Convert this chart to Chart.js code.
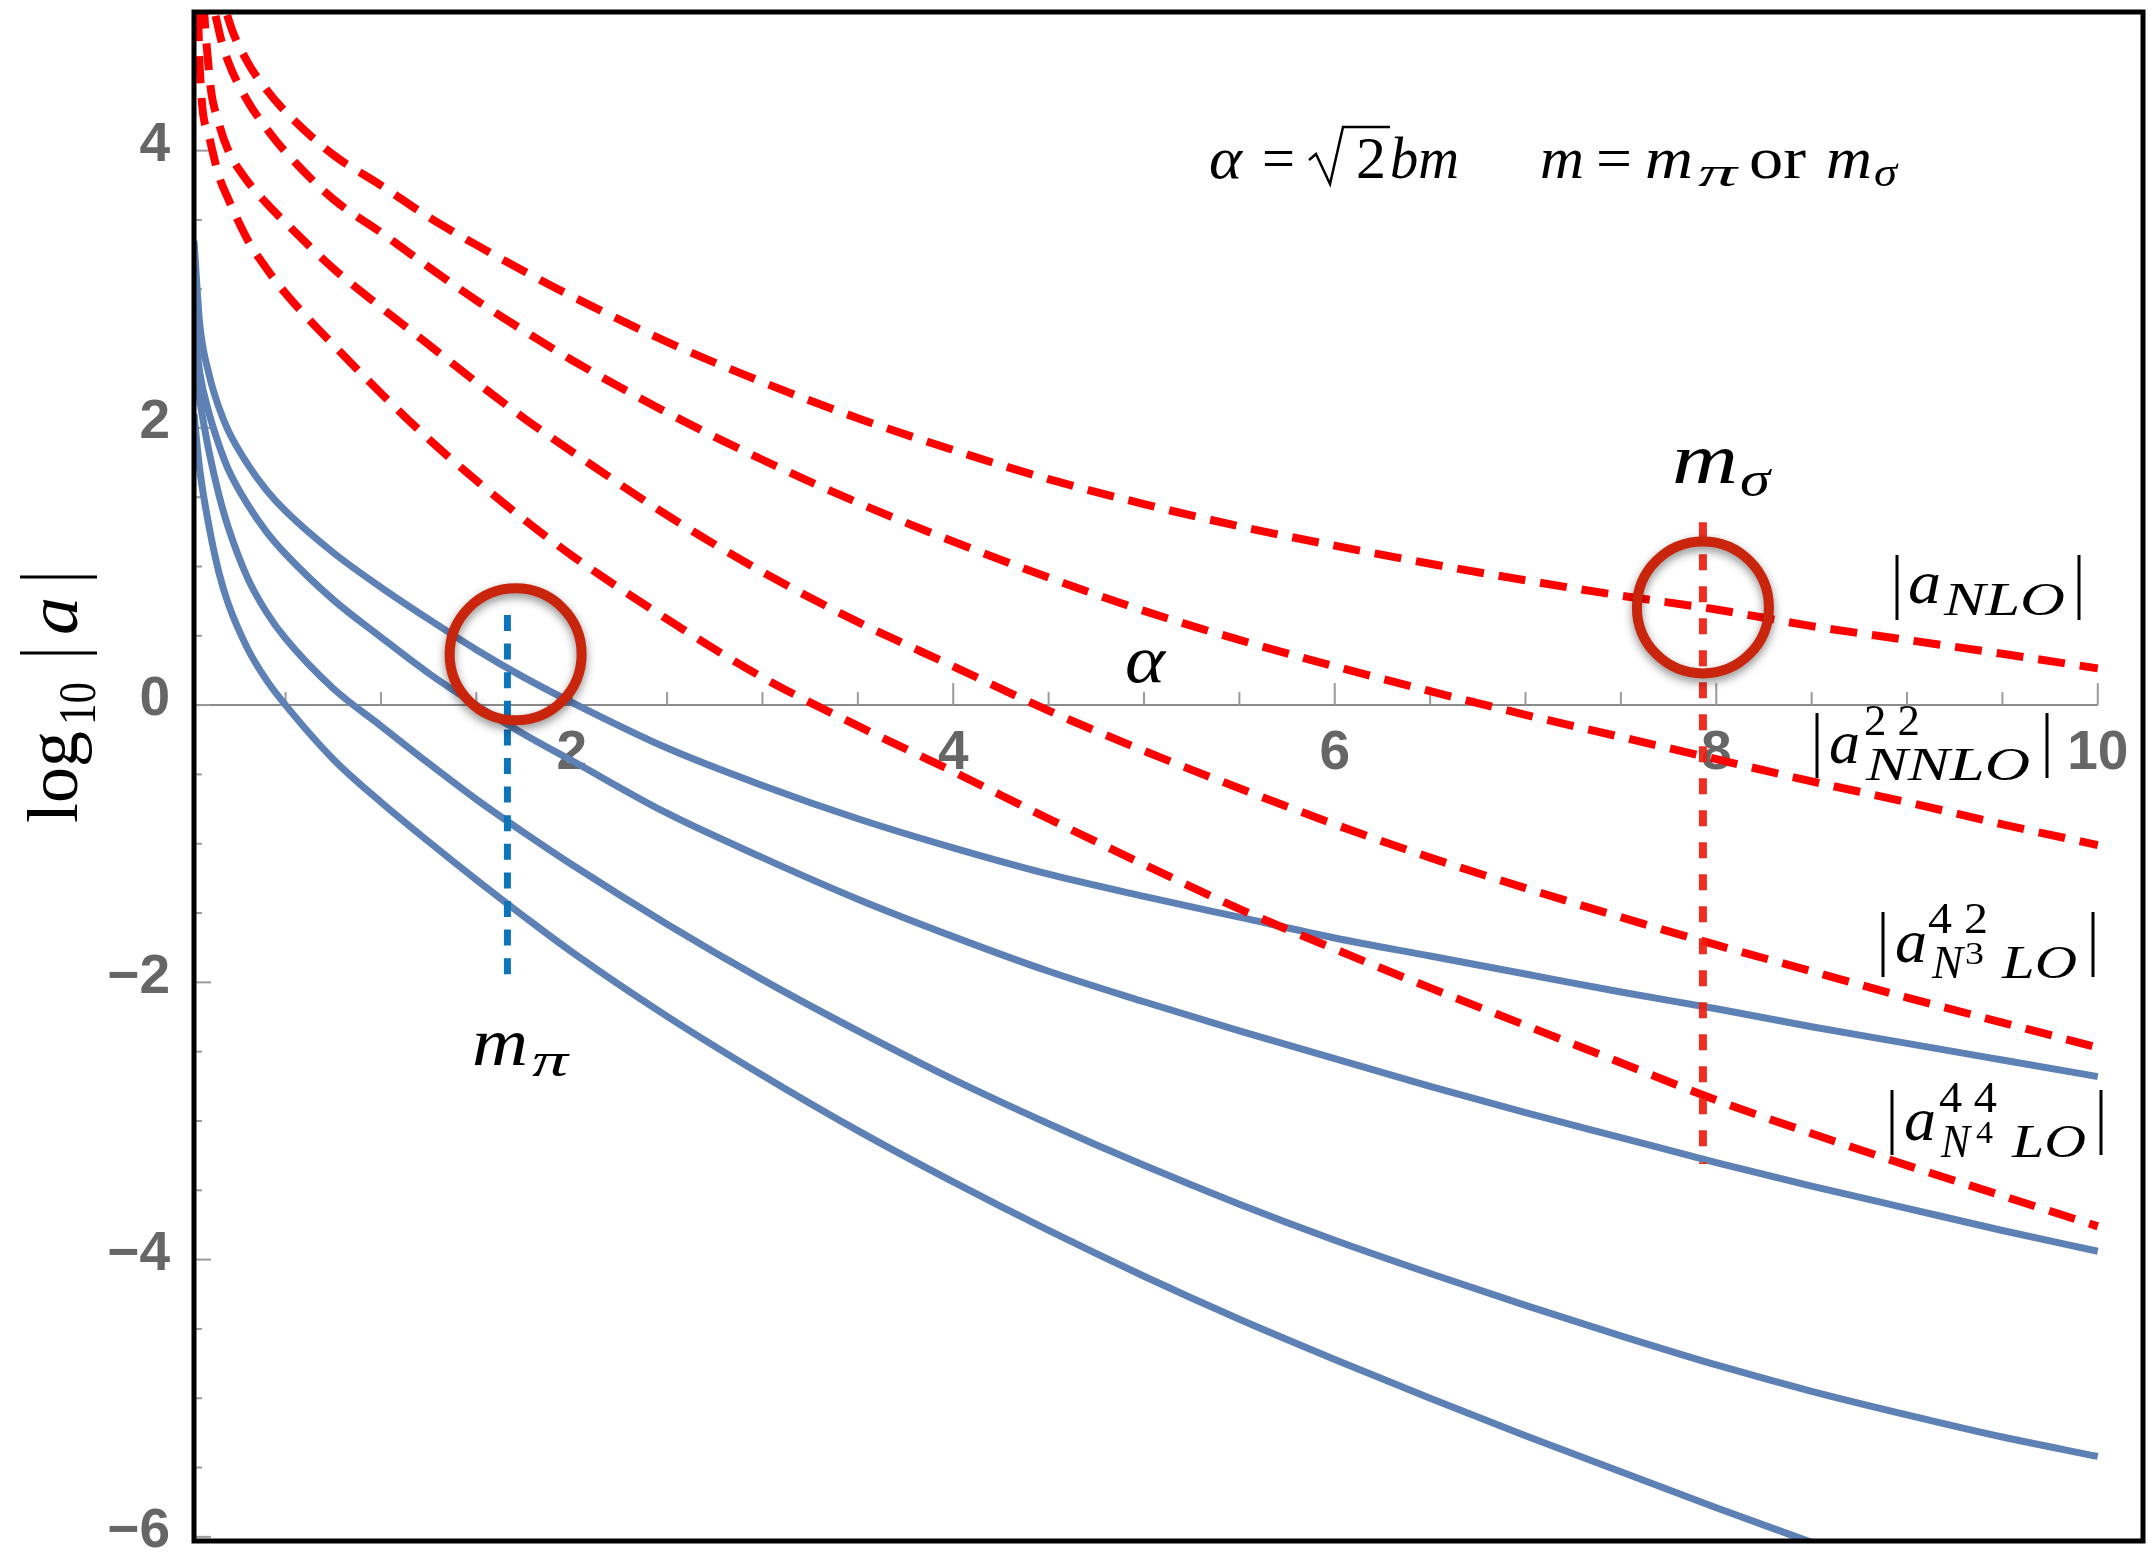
<!DOCTYPE html>
<html>
<head>
<meta charset="utf-8">
<title>log10|a| versus alpha</title>
<script src="https://cdn.jsdelivr.net/npm/chart.js@4.4.1/dist/chart.umd.min.js"></script>
<style>
  html, body { margin: 0; padding: 0; background: #ffffff; }
  #box { position: relative; width: 2148px; height: 1553px; }
</style>
</head>
<body>
<div id="box"><canvas id="chart" width="2148" height="1553"></canvas></div>
<script>
// sample points in alpha = sqrt(2) b m
const alpha = [0.02, 0.05, 0.1, 0.15, 0.2, 0.3, 0.4, 0.5, 0.75, 1, 1.25, 1.5, 1.75, 2, 2.5, 3, 3.5, 4, 4.5, 5, 5.5, 6, 6.5, 7, 7.5, 8, 8.5, 9, 9.5, 10];

// log10 of the coefficient magnitudes (dashed red)
const aNLO  = [8.6, 6.9, 5.75, 5.25, 4.95, 4.64, 4.44, 4.28, 3.97, 3.75, 3.52, 3.32, 3.13, 2.95, 2.62, 2.33, 2.07, 1.84, 1.63, 1.45, 1.29, 1.15, 1.02, 0.90, 0.79, 0.69, 0.57, 0.47, 0.37, 0.265];
const aNNLO = [8.3, 6.5, 5.3, 4.87, 4.64, 4.36, 4.16, 3.99, 3.65, 3.41, 3.16, 2.92, 2.70, 2.49, 2.11, 1.77, 1.46, 1.18, 0.92, 0.68, 0.47, 0.28, 0.10, -0.07, -0.23, -0.39, -0.55, -0.70, -0.86, -1.01];
const aN3LO = [7.5, 5.7, 4.55, 4.2, 4.0, 3.78, 3.62, 3.48, 3.15, 2.87, 2.60, 2.33, 2.07, 1.83, 1.37, 0.96, 0.60, 0.28, -0.04, -0.33, -0.60, -0.86, -1.10, -1.32, -1.53, -1.73, -1.92, -2.11, -2.29, -2.47];
const aN4LO = [6.5, 4.6, 4.1, 3.82, 3.65, 3.36, 3.15, 2.97, 2.60, 2.25, 1.92, 1.62, 1.34, 1.08, 0.62, 0.20, -0.15, -0.48, -0.82, -1.15, -1.47, -1.76, -2.04, -2.31, -2.58, -2.85, -3.09, -3.32, -3.54, -3.76];

// solid blue curves
const blue1 = [3.35, 2.75, 2.38, 2.15, 1.98, 1.74, 1.55, 1.40, 1.10, 0.85, 0.62, 0.40, 0.20, 0.02, -0.31, -0.58, -0.82, -1.03, -1.22, -1.38, -1.53, -1.68, -1.81, -1.94, -2.07, -2.19, -2.32, -2.44, -2.56, -2.68];
const blue2 = [2.75, 2.40, 2.10, 1.88, 1.70, 1.45, 1.25, 1.09, 0.76, 0.49, 0.23, 0.00, -0.21, -0.40, -0.78, -1.10, -1.40, -1.67, -1.92, -2.14, -2.35, -2.55, -2.75, -2.94, -3.12, -3.30, -3.47, -3.63, -3.79, -3.94];
const blue3 = [2.50, 2.20, 1.82, 1.52, 1.28, 0.92, 0.67, 0.48, 0.12, -0.15, -0.42, -0.68, -0.92, -1.15, -1.58, -1.98, -2.35, -2.70, -3.02, -3.32, -3.60, -3.86, -4.10, -4.33, -4.55, -4.76, -4.95, -5.12, -5.28, -5.42];
const blue4 = [2.10, 1.70, 1.28, 0.96, 0.73, 0.41, 0.18, 0.00, -0.39, -0.70, -0.985, -1.26, -1.525, -1.78, -2.245, -2.67, -3.07, -3.44, -3.79, -4.12, -4.43, -4.72, -5.00, -5.27, -5.53, -5.79, -6.04, -6.29, -6.53, -6.77];

// marked masses on the alpha axis and the extent of their markers
const mPi = 1.663;
const mPiSpan = [0.65, -2.0];
const mSigma = 7.93;
const mSigmaSpan = [1.32, -3.31];

// highlighted crossings (alpha, log10|a|)
const ringPi = [1.706, 0.366];
const ringSigma = [7.93, 0.705];

const xTickLabels = [2, 4, 6, 8, 10];
const yTickLabels = [-6, -4, -2, 0, 2, 4];

const pts = ys => alpha.map((x, i) => ({ x: x, y: ys[i] }));
const vline = (x, span) => [{ x: x, y: span[0] }, { x: x, y: span[1] }];

const RED = '#ff0000';
const BLUE = '#5e81b5';
const SERIF = '"Liberation Serif", "DejaVu Serif", serif';

function redSet(label, ys) {
  return { label, data: pts(ys), borderColor: RED, borderWidth: 8, borderDash: [27, 15],
           borderCapStyle: 'butt', cubicInterpolationMode: 'monotone', pointRadius: 0, clip: 0 };
}
function blueSet(label, ys) {
  return { label, data: pts(ys), borderColor: BLUE, borderWidth: 7,
           cubicInterpolationMode: 'monotone', pointRadius: 0, clip: 0 };
}

// text drawn to a given horizontal extent
function fitText(ctx, p) {
  ctx.font = (p.it ? 'italic ' : '') + p.size + 'px ' + SERIF;
  const w = ctx.measureText(p.t).width;
  const sx = (p.x1 - p.x0) / w;
  ctx.save();
  ctx.translate(p.x0, p.base);
  ctx.scale(sx, 1);
  ctx.fillText(p.t, 0, 0);
  ctx.restore();
}
function bar(ctx, x, y0, y1) {
  ctx.beginPath(); ctx.moveTo(x, y0); ctx.lineTo(x, y1); ctx.stroke();
}

const formula = [
  { t: 'α', x0: 1209, x1: 1242, base: 178, size: 60, it: true },
  { t: '=', x0: 1262, x1: 1295, base: 178, size: 60 },
  { t: '2', x0: 1356, x1: 1386, base: 178, size: 60 },
  { t: 'bm', x0: 1390, x1: 1459, base: 178, size: 60, it: true },
  { t: 'm', x0: 1540, x1: 1584, base: 178, size: 60, it: true },
  { t: '=', x0: 1596, x1: 1632, base: 178, size: 60 },
  { t: 'm', x0: 1645, x1: 1693, base: 178, size: 60, it: true },
  { t: 'π', x0: 1698, x1: 1737, base: 186, size: 42, it: true },
  { t: 'or', x0: 1749, x1: 1806, base: 178, size: 60 },
  { t: 'm', x0: 1826, x1: 1872, base: 178, size: 60, it: true },
  { t: 'σ', x0: 1874, x1: 1897, base: 186, size: 42, it: true }
];

const labels = [
  { bars: null, parts: [
    { t: 'm', x0: 1672, x1: 1738, base: 483, size: 72, it: true },
    { t: 'σ', x0: 1740, x1: 1770, base: 496, size: 50, it: true } ] },
  { bars: null, parts: [
    { t: 'm', x0: 472, x1: 528, base: 1065, size: 68, it: true },
    { t: 'π', x0: 532, x1: 568, base: 1076, size: 48, it: true } ] },
  { bars: null, parts: [
    { t: 'α', x0: 1125, x1: 1165, base: 682, size: 68, it: true } ] },
  { bars: [1897, 2079, 555, 620], parts: [
    { t: 'a', x0: 1908, x1: 1941, base: 603, size: 62, it: true },
    { t: 'NLO', x0: 1944, x1: 2065, base: 615, size: 46, it: true } ] },
  { bars: [1817, 2047, 713, 778], parts: [
    { t: 'a', x0: 1829, x1: 1860, base: 763, size: 62, it: true },
    { t: '2 2', x0: 1864, x1: 1920, base: 735, size: 44 },
    { t: 'NNLO', x0: 1866, x1: 2030, base: 780, size: 46, it: true } ] },
  { bars: [1883, 2093, 912, 977], parts: [
    { t: 'a', x0: 1895, x1: 1927, base: 962, size: 62, it: true },
    { t: '4 2', x0: 1928, x1: 1988, base: 933, size: 44 },
    { t: 'N', x0: 1932, x1: 1963, base: 978, size: 46, it: true },
    { t: '3', x0: 1965, x1: 1984, base: 964, size: 32 },
    { t: 'LO', x0: 2002, x1: 2077, base: 978, size: 46, it: true } ] },
  { bars: [1892, 2101, 1090, 1155], parts: [
    { t: 'a', x0: 1904, x1: 1936, base: 1140, size: 62, it: true },
    { t: '4 4', x0: 1939, x1: 1997, base: 1112, size: 44 },
    { t: 'N', x0: 1941, x1: 1970, base: 1157, size: 46, it: true },
    { t: '4', x0: 1976, x1: 1993, base: 1143, size: 32 },
    { t: 'LO', x0: 2012, x1: 2086, base: 1157, size: 46, it: true } ] }
];

const decor = {
  id: 'decor',
  beforeDatasetsDraw(chart) {
    const { ctx, chartArea: a, scales: { x, y } } = chart;
    const y0 = y.getPixelForValue(0);
    ctx.save();
    ctx.strokeStyle = '#8a8a8a';
    ctx.lineWidth = 2;
    ctx.beginPath();
    ctx.moveTo(a.left, y0);
    ctx.lineTo(x.getPixelForValue(10), y0);
    ctx.stroke();
    ctx.strokeStyle = '#9a9a9a';
    x.ticks.forEach(t => {
      if (t.value > 10) return;
      const px = x.getPixelForValue(t.value);
      const len = (t.value % 2 === 0) ? 22 : 13;
      ctx.beginPath(); ctx.moveTo(px, y0); ctx.lineTo(px, y0 - len); ctx.stroke();
    });
    y.ticks.forEach(t => {
      const py = y.getPixelForValue(t.value);
      const len = (t.value % 2 === 0) ? 17 : 8;
      ctx.beginPath(); ctx.moveTo(a.left, py); ctx.lineTo(a.left + len, py); ctx.stroke();
    });
    ctx.restore();
  },
  afterDraw(chart) {
    const { ctx, chartArea: a, scales: { x, y } } = chart;
    ctx.save();

    // highlight rings
    [ringPi, ringSigma].forEach(r => {
      ctx.save();
      ctx.shadowColor = 'rgba(0,0,0,0.45)';
      ctx.shadowBlur = 10;
      ctx.shadowOffsetY = 4;
      ctx.strokeStyle = '#c9250c';
      ctx.lineWidth = 10;
      ctx.beginPath();
      ctx.arc(x.getPixelForValue(r[0]), y.getPixelForValue(r[1]), 66, 0, Math.PI * 2);
      ctx.stroke();
      ctx.restore();
    });

    // frame
    ctx.strokeStyle = '#000000';
    ctx.lineWidth = 5;
    ctx.strokeRect(a.left, a.top, a.right - a.left, a.bottom - a.top);

    // texts
    ctx.fillStyle = '#000000';
    ctx.strokeStyle = '#000000';
    ctx.textBaseline = 'alphabetic';
    ctx.textAlign = 'left';
    formula.forEach(p => fitText(ctx, p));
    ctx.lineWidth = 2.5;
    ctx.beginPath();
    ctx.moveTo(1309, 160); ctx.lineTo(1316, 154); ctx.lineTo(1330, 184);
    ctx.lineTo(1343, 127); ctx.lineTo(1390, 127);
    ctx.stroke();

    labels.forEach(l => {
      l.parts.forEach(p => fitText(ctx, p));
      if (l.bars) {
        ctx.lineWidth = 3;
        bar(ctx, l.bars[0], l.bars[2], l.bars[3]);
        bar(ctx, l.bars[1], l.bars[2], l.bars[3]);
      }
    });

    // vertical axis title
    ctx.save();
    ctx.translate(77, 823);
    ctx.rotate(-Math.PI / 2);
    fitText(ctx, { t: 'log', x0: 0, x1: 92, base: 0, size: 72 });
    fitText(ctx, { t: '10', x0: 98, x1: 141, base: 18, size: 52 });
    fitText(ctx, { t: 'a', x0: 188, x1: 226, base: 0, size: 72, it: true });
    ctx.lineWidth = 3;
    ctx.beginPath();
    ctx.moveTo(170, -57); ctx.lineTo(170, 20);
    ctx.moveTo(246, -57); ctx.lineTo(246, 20);
    ctx.stroke();
    ctx.restore();

    ctx.restore();
  }
};

const tickFont = { family: '"Liberation Sans", Arial, sans-serif', weight: 'bold', size: 55 };

new Chart(document.getElementById('chart'), {
  type: 'line',
  data: {
    datasets: [
      { label: 'm_pi', data: vline(mPi, mPiSpan), borderColor: '#0b74bb', borderWidth: 7,
        borderDash: [16, 12.6], pointRadius: 0 },
      { label: 'm_sigma', data: vline(mSigma, mSigmaSpan), borderColor: 'rgba(236,30,15,0.92)', borderWidth: 8,
        borderDash: [16, 16], pointRadius: 0 },
      redSet('|a_NLO|', aNLO),
      redSet('|a_NNLO|', aNNLO),
      redSet('|a_N3LO|', aN3LO),
      redSet('|a_N4LO|', aN4LO),
      blueSet('b1', blue1),
      blueSet('b2', blue2),
      blueSet('b3', blue3),
      blueSet('b4', blue4)
    ]
  },
  options: {
    responsive: false,
    animation: false,
    devicePixelRatio: 1,
    layout: { padding: { left: 0, right: 5, top: 12, bottom: 12 } },
    plugins: { legend: { display: false }, tooltip: { enabled: false } },
    elements: { line: { borderJoinStyle: 'round' } },
    scales: {
      x: {
        type: 'linear',
        position: { y: 0 },
        min: 0.02,
        max: 10.237,
        grid: { display: false, drawTicks: false },
        border: { display: false },
        ticks: {
          stepSize: 0.5,
          includeBounds: false,
          autoSkip: false,
          maxRotation: 0,
          maxTicksLimit: 100,
          padding: 16,
          color: '#666666',
          font: tickFont,
          callback: v => (xTickLabels.includes(v) ? String(v) : '')
        },
        afterFit: s => { s.paddingLeft = 0; s.paddingRight = 0; }
      },
      y: {
        type: 'linear',
        position: 'left',
        min: -6.03,
        max: 5.0,
        grid: { display: false, drawTicks: false },
        border: { display: false },
        ticks: {
          stepSize: 0.5,
          includeBounds: false,
          autoSkip: false,
          maxTicksLimit: 100,
          padding: 24,
          labelOffset: -5,
          color: '#666666',
          font: tickFont,
          callback: v => (yTickLabels.includes(v) ? (v < 0 ? '\u2212' + Math.abs(v) : String(v)) : '')
        },
        afterFit: s => { s.width = 194; s.paddingTop = 0; s.paddingBottom = 0; }
      }
    }
  },
  plugins: [decor]
});
</script>
</body>
</html>
